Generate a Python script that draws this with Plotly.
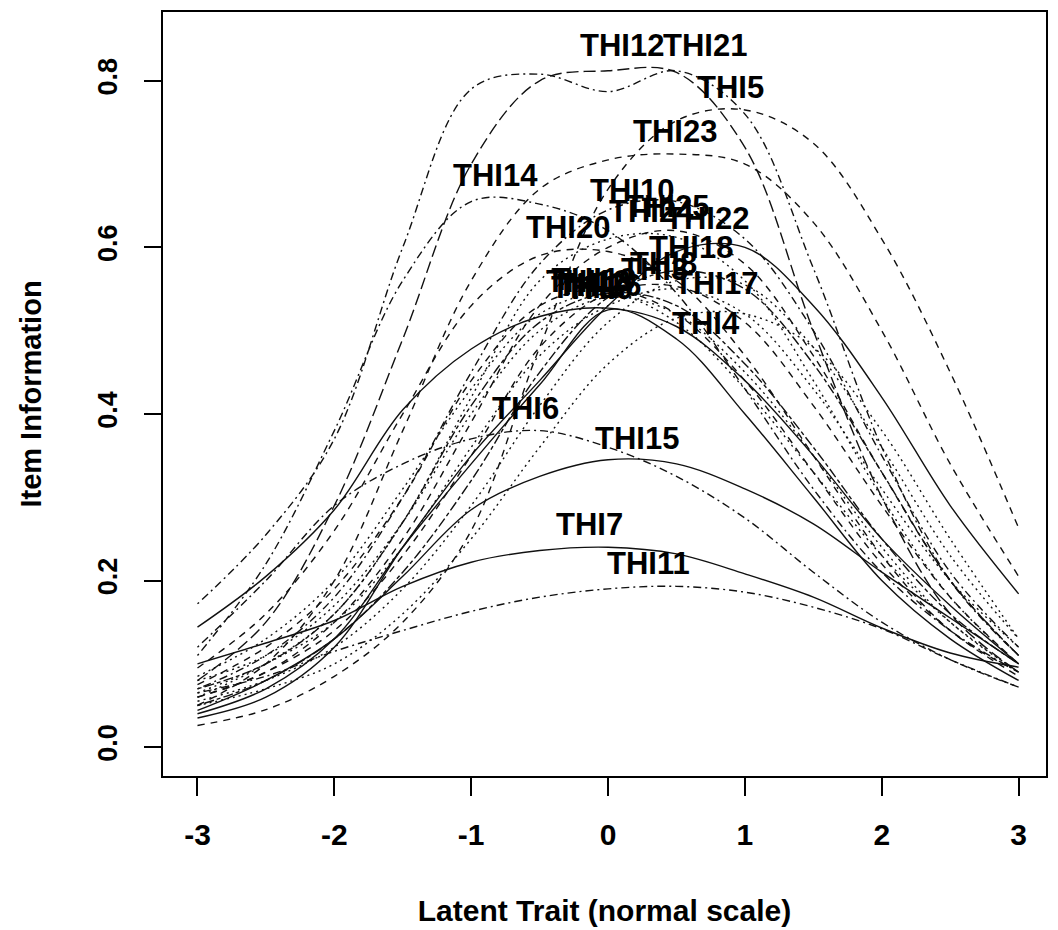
import plotly.graph_objects as go

# Latent trait grid (normal scale)
theta = [-3, -2.5, -2, -1.5, -1, -0.5, 0, 0.5, 1, 1.5, 2, 2.5, 3]

# Item information values
THI1 = [0.144, 0.205, 0.285, 0.405, 0.478, 0.517, 0.527, 0.505, 0.44, 0.35, 0.25, 0.17, 0.10]
THI2 = [0.085, 0.13, 0.20, 0.31, 0.43, 0.52, 0.545, 0.51, 0.43, 0.33, 0.23, 0.15, 0.09]
THI3 = [0.065, 0.10, 0.15, 0.24, 0.36, 0.47, 0.53, 0.55, 0.52, 0.43, 0.31, 0.20, 0.12]
THI4 = [0.05, 0.07, 0.10, 0.16, 0.25, 0.36, 0.46, 0.515, 0.52, 0.48, 0.38, 0.25, 0.13]
THI5 = [0.026, 0.045, 0.085, 0.15, 0.26, 0.48, 0.67, 0.752, 0.765, 0.725, 0.61, 0.45, 0.263]
THI6 = [0.12, 0.20, 0.29, 0.34, 0.37, 0.38, 0.36, 0.325, 0.275, 0.21, 0.15, 0.105, 0.072]
THI7 = [0.10, 0.125, 0.152, 0.193, 0.222, 0.236, 0.24, 0.232, 0.208, 0.18, 0.143, 0.113, 0.096]
THI8 = [0.06, 0.09, 0.14, 0.23, 0.35, 0.48, 0.545, 0.553, 0.51, 0.41, 0.29, 0.18, 0.10]
THI9 = [0.08, 0.11, 0.17, 0.27, 0.40, 0.50, 0.54, 0.52, 0.45, 0.35, 0.24, 0.15, 0.09]
THI10 = [0.07, 0.11, 0.18, 0.30, 0.45, 0.58, 0.645, 0.655, 0.61, 0.50, 0.35, 0.21, 0.12]
THI11 = [0.065, 0.085, 0.115, 0.14, 0.163, 0.18, 0.19, 0.193, 0.186, 0.168, 0.142, 0.105, 0.072]
THI12 = [0.08, 0.15, 0.29, 0.49, 0.70, 0.80, 0.812, 0.81, 0.72, 0.50, 0.30, 0.16, 0.09]
THI13 = [0.075, 0.12, 0.19, 0.30, 0.44, 0.53, 0.55, 0.52, 0.44, 0.33, 0.22, 0.14, 0.085]
THI14 = [0.11, 0.22, 0.38, 0.56, 0.655, 0.652, 0.62, 0.545, 0.43, 0.31, 0.21, 0.14, 0.09]
THI15 = [0.044, 0.08, 0.13, 0.205, 0.285, 0.325, 0.345, 0.34, 0.31, 0.268, 0.21, 0.155, 0.10]
THI16 = [0.07, 0.10, 0.16, 0.27, 0.41, 0.51, 0.545, 0.53, 0.46, 0.36, 0.25, 0.16, 0.10]
THI17 = [0.055, 0.08, 0.12, 0.19, 0.29, 0.41, 0.51, 0.56, 0.555, 0.48, 0.36, 0.23, 0.13]
THI18 = [0.05, 0.08, 0.13, 0.21, 0.32, 0.45, 0.54, 0.572, 0.55, 0.46, 0.33, 0.20, 0.11]
THI19 = [0.04, 0.07, 0.13, 0.24, 0.34, 0.435, 0.525, 0.49, 0.40, 0.30, 0.20, 0.13, 0.08]
THI20 = [0.095, 0.16, 0.26, 0.40, 0.53, 0.59, 0.595, 0.56, 0.47, 0.35, 0.23, 0.14, 0.09]
THI21 = [0.172, 0.255, 0.37, 0.60, 0.79, 0.808, 0.787, 0.812, 0.76, 0.575, 0.36, 0.20, 0.11]
THI22 = [0.035, 0.06, 0.12, 0.24, 0.35, 0.44, 0.53, 0.595, 0.60, 0.53, 0.42, 0.29, 0.184]
THI23 = [0.05, 0.10, 0.20, 0.38, 0.56, 0.67, 0.705, 0.712, 0.70, 0.63, 0.50, 0.34, 0.205]
THI24 = [0.06, 0.10, 0.16, 0.27, 0.42, 0.56, 0.61, 0.612, 0.56, 0.44, 0.30, 0.18, 0.10]
THI25 = [0.06, 0.09, 0.15, 0.25, 0.39, 0.53, 0.60, 0.62, 0.58, 0.47, 0.33, 0.20, 0.11]

item_names = ["THI%d" % i for i in range(1, 26)]
item_values = [THI1, THI2, THI3, THI4, THI5, THI6, THI7, THI8, THI9, THI10,
               THI11, THI12, THI13, THI14, THI15, THI16, THI17, THI18, THI19,
               THI20, THI21, THI22, THI23, THI24, THI25]

# Label anchor points (theta, information)
label_theta = [-0.172, -0.121, 0.34, 0.713, 0.895, -0.603, -0.135, 0.406, -0.062, 0.172,
               0.296, 0.099, -0.143, -0.822, 0.208, -0.069, 0.786, 0.603, -0.106,
               -0.296, 0.705, 0.72, 0.486, 0.318, 0.428]
label_info = [0.552, 0.556, 0.574, 0.509, 0.792, 0.406, 0.267, 0.581, 0.551, 0.668,
              0.220, 0.842, 0.559, 0.686, 0.371, 0.554, 0.557, 0.600, 0.562,
              0.624, 0.842, 0.635, 0.739, 0.643, 0.649]

# Styles (separate from data)
DASH = {
    "solid": "solid",
    "dash": "7px,6px",
    "dot": "2px,4px",
    "dashdot": "2px,4px,8px,4px",
    "longdash": "12px,5px",
    "twodash": "4px,3px,10px,3px",
}
item_dash = ["solid", "dot", "dot", "dot", "dash", "dashdot", "solid", "dash", "dot", "dashdot",
             "dashdot", "longdash", "dash", "dashdot", "solid", "twodash", "dot", "twodash", "solid",
             "dash", "dashdot", "solid", "dash", "dot", "dash"]

FONT = "Liberation Sans, Arial, Helvetica, sans-serif"

fig = go.Figure()
for name, vals, d in zip(item_names, item_values, item_dash):
    fig.add_trace(go.Scatter(
        x=theta, y=vals, mode="lines", name=name,
        line=dict(color="#111111", width=1.4, dash=DASH[d], shape="spline", smoothing=1.0),
        showlegend=False, hoverinfo="name",
    ))

for name, lx, ly in zip(item_names, label_theta, label_info):
    fig.add_annotation(x=lx, y=ly, text=name, showarrow=False,
                       xanchor="center", yanchor="middle",
                       font=dict(family=FONT, size=31, color="#000000", weight="bold"))

# page body has an 8px default margin, so margins are reduced by 8px on left/top
fig.update_layout(
    width=1058, height=930,
    margin=dict(l=155, r=20, t=2, b=162),
    paper_bgcolor="white", plot_bgcolor="white",
    font=dict(family=FONT, color="#000000"),
)
fig.update_xaxes(
    range=[-3.252, 3.2], tickvals=[-3, -2, -1, 0, 1, 2, 3],
    ticktext=["-3", "-2", "-1", "0", "1", "2", "3"],
    showgrid=False, zeroline=False,
    showline=True, linecolor="#000000", linewidth=1.5, mirror=True,
    ticks="outside", ticklen=18, tickwidth=1.5, tickcolor="#000000",
    tickfont=dict(family=FONT, size=30, weight="bold"), ticklabelstandoff=13,
    title=dict(text="Latent Trait (normal scale)", standoff=50,
               font=dict(family=FONT, size=30, weight="bold")),
)
fig.update_yaxes(
    range=[-0.0347, 0.8826], tickvals=[0, 0.2, 0.4, 0.6, 0.8],
    ticktext=["0.0", "0.2", "0.4", "0.6", "0.8"],
    showgrid=False, zeroline=False,
    showline=True, linecolor="#000000", linewidth=1.5, mirror=True,
    ticks="outside", ticklen=17, tickwidth=1.5, tickcolor="#000000",
    tickangle=-90,
    tickfont=dict(family=FONT, size=27, weight="bold"), ticklabelstandoff=16,
    title=dict(text="Item Information", standoff=43,
               font=dict(family=FONT, size=29, weight="bold")),
)

fig.write_html("out.html")
